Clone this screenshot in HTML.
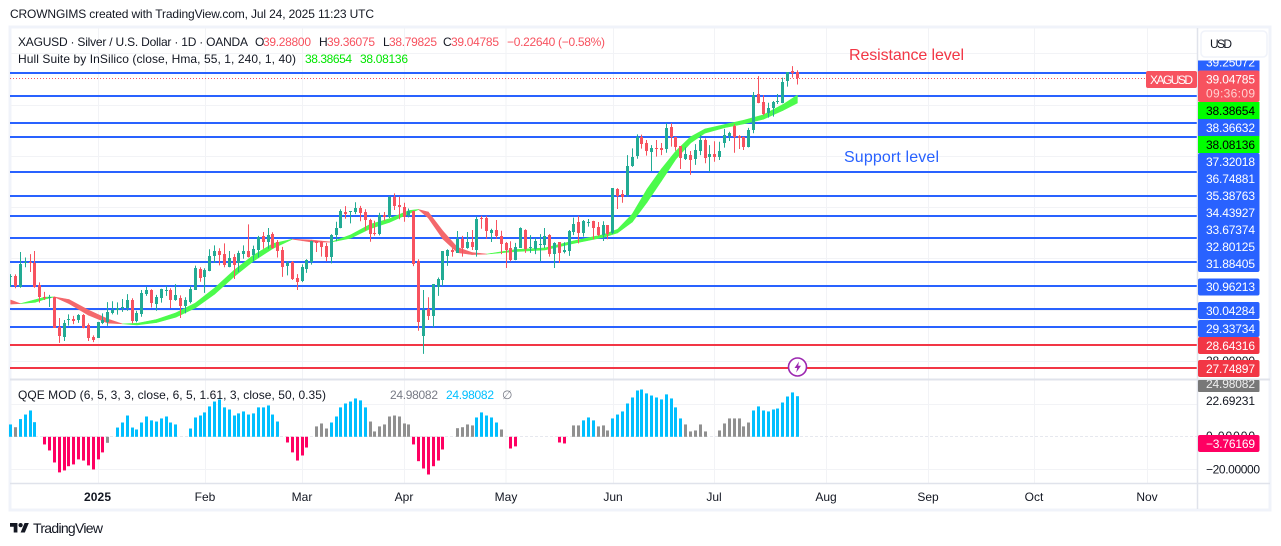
<!DOCTYPE html>
<html lang="en">
<head>
<meta charset="utf-8">
<title>XAGUSD chart</title>
<style>
html,body{margin:0;padding:0;background:#fff;width:1281px;height:546px;overflow:hidden}
svg{display:block}
text{font-family:"Liberation Sans",sans-serif;font-size:12px;fill:#131722}
.tag{fill:#fff;text-anchor:start}
</style>
</head>
<body>
<svg id="chart" xmlns="http://www.w3.org/2000/svg" width="1281" height="546" viewBox="0 0 1281 546">
<defs>
<clipPath id="paneClip"><rect x="10" y="28" width="1187.5" height="351"/></clipPath>
<clipPath id="topTagClip"><rect x="1198" y="60.5" width="62" height="10.5"/></clipPath>
<clipPath id="grayTagClip"><rect x="1198" y="380" width="62" height="12"/></clipPath>
</defs>
<rect width="1281" height="546" fill="#fff"/>
<text x="10" y="18" textLength="364" lengthAdjust="spacing">CROWNGIMS created with TradingView.com, Jul 24, 2025 11:23 UTC</text>
<rect x="10" y="27" width="1260" height="483" fill="#fff" stroke="#f0f3fa" stroke-width="3"/>

<g id="grid"></g>
<g id="levels" clip-path="url(#paneClip)"></g>
<line x1="10" x2="1146" y1="78.5" y2="78.5" stroke="#f7525f" stroke-width="1" stroke-dasharray="1 2"/>
<g id="hull" clip-path="url(#paneClip)"></g>
<g id="candles" clip-path="url(#paneClip)"></g>
<g id="qqe"></g>

<line x1="10" x2="1270" y1="379.5" y2="379.5" stroke="#e0e3eb" stroke-width="2"/>
<line x1="10" x2="1270" y1="483.5" y2="483.5" stroke="#e0e3eb" stroke-width="1.5"/>
<line x1="1197.5" x2="1197.5" y1="28" y2="509" stroke="#e0e3eb" stroke-width="1.5"/>

<text x="18" y="46" textLength="230" lengthAdjust="spacing">XAGUSD · Silver / U.S. Dollar · 1D · OANDA</text>
<g>
<text x="255" y="46">O</text><text x="263" y="46" textLength="48" style="fill:#f7525f">39.28800</text>
<text x="319" y="46">H</text><text x="327" y="46" textLength="48" style="fill:#f7525f">39.36075</text>
<text x="383" y="46">L</text><text x="389" y="46" textLength="48" style="fill:#f7525f">38.79825</text>
<text x="443" y="46">C</text><text x="451" y="46" textLength="48" style="fill:#f7525f">39.04785</text>
<text x="507" y="46" textLength="98" style="fill:#f7525f">−0.22640 (−0.58%)</text>
</g>
<text x="18" y="63" textLength="278" lengthAdjust="spacing">Hull Suite by InSilico (close, Hma, 55, 1, 240, 1, 40)</text>
<text x="305" y="63" textLength="47" style="fill:#00e600">38.38654</text>
<text x="360" y="63" textLength="48" style="fill:#00e600">38.08136</text>

<text x="849" y="60" textLength="115" style="font-size:16px;fill:#f23645">Resistance level</text>
<text x="844" y="162" textLength="95" style="font-size:16px;fill:#2962ff">Support level</text>

<g>
<circle cx="797.5" cy="367" r="9" fill="#fff" stroke="#9c27b0" stroke-width="1.6"/>
<path d="M799 361.5l-4.5 6.500h2.700l-1 4.500 4.800-6.800h-2.800z" fill="#9c27b0"/>
</g>

<text x="18" y="399" textLength="308" lengthAdjust="spacing">QQE MOD (6, 5, 3, 3, close, 6, 5, 1.61, 3, close, 50, 0.35)</text>
<text x="390" y="399" textLength="48" style="fill:#787b86">24.98082</text>
<text x="446" y="399" textLength="48" style="fill:#00bfff">24.98082</text>
<text x="502" y="399" style="fill:#787b86">∅</text>

<rect x="1146" y="71" width="51" height="17" rx="2" fill="#f7525f"/>
<text class="tag" x="1150" y="84" textLength="43">XAGUSD</text>

<g>
<rect x="1201" y="31" width="66" height="26" rx="4" fill="#fff" stroke="#f0f3fa" stroke-width="1.5"/>
<text x="1210" y="48" textLength="22">USD</text>

<rect x="1198" y="60.500" width="61.500" height="11" fill="#2962ff"/>
<text class="tag" clip-path="url(#topTagClip)" x="1206" y="66.500" textLength="49">39.25072</text>
<rect x="1198" y="119" width="61.500" height="17" fill="#2962ff"/>
<text class="tag" x="1206" y="132" textLength="49">38.36632</text>
<rect x="1198" y="153" width="61.500" height="119" rx="2" fill="#2962ff"/>
<text class="tag" x="1206" y="166" textLength="49">37.32018</text>
<text class="tag" x="1206" y="183" textLength="49">36.74881</text>
<text class="tag" x="1206" y="200" textLength="49">35.38763</text>
<text class="tag" x="1206" y="217" textLength="49">34.43927</text>
<text class="tag" x="1206" y="234" textLength="49">33.67374</text>
<text class="tag" x="1206" y="251" textLength="49">32.80125</text>
<text class="tag" x="1206" y="268" textLength="49">31.88405</text>
<rect x="1198" y="278.500" width="61.500" height="17" rx="2" fill="#2962ff"/>
<text class="tag" x="1206" y="291" textLength="49">30.96213</text>
<rect x="1198" y="302" width="61.500" height="17" rx="2" fill="#2962ff"/>
<text class="tag" x="1206" y="315" textLength="49">30.04284</text>
<rect x="1198" y="320" width="61.500" height="17" rx="2" fill="#2962ff"/>
<text class="tag" x="1206" y="333" textLength="49">29.33734</text>

<rect x="1198" y="70.500" width="61.500" height="31.500" rx="2" fill="#f7525f"/>
<text class="tag" x="1206" y="83.500" textLength="49">39.04785</text>
<text class="tag" x="1206" y="97.500" textLength="49" style="fill:#ffd0d0">09:36:09</text>
<rect x="1198" y="102" width="61.500" height="17" fill="#00ff00"/>
<text x="1206" y="115" textLength="49" style="fill:#000">38.38654</text>
<rect x="1198" y="136" width="61.500" height="17" fill="#00ff00"/>
<text x="1206" y="149" textLength="49" style="fill:#000">38.08136</text>

<rect x="1198" y="337" width="61.500" height="17" rx="2" fill="#f23645"/>
<text class="tag" x="1206" y="350" textLength="49">28.64316</text>
<text x="1206" y="365" textLength="49">28.00000</text>
<rect x="1198" y="360" width="61.500" height="17" rx="2" fill="#f23645"/>
<text class="tag" x="1206" y="373" textLength="49">27.74897</text>

<rect x="1198" y="380" width="61.500" height="12" rx="1" fill="#787878"/>
<text class="tag" clip-path="url(#grayTagClip)" x="1206" y="388" textLength="49" style="fill:#eee">24.98082</text>
<text x="1206" y="405" textLength="49">22.69231</text>
<text x="1206" y="440" textLength="49">0.00000</text>
<rect x="1198" y="435" width="61.500" height="17" rx="2" fill="#ff0062"/>
<text class="tag" x="1206" y="448" textLength="49">−3.76169</text>
<text x="1206" y="473.500" textLength="54">−20.00000</text>
</g>

<g>
<text x="84" y="501" textLength="27" style="font-weight:bold">2025</text>
<text x="205" y="501" text-anchor="middle">Feb</text>
<text x="302" y="501" text-anchor="middle">Mar</text>
<text x="404" y="501" text-anchor="middle">Apr</text>
<text x="506" y="501" text-anchor="middle">May</text>
<text x="613" y="501" text-anchor="middle">Jun</text>
<text x="714" y="501" text-anchor="middle">Jul</text>
<text x="826" y="501" text-anchor="middle">Aug</text>
<text x="928" y="501" text-anchor="middle">Sep</text>
<text x="1034" y="501" text-anchor="middle">Oct</text>
<text x="1147" y="501" text-anchor="middle">Nov</text>
</g>

<g>
<g transform="translate(10 520.900) scale(0.53)" fill="#131722">
<path d="M14 22H7V11H0V4h14v18zM28 22h-8l7.500-18h8L28 22z"/><circle cx="20" cy="8" r="4"/>
</g>
<text x="33" y="533" textLength="70" style="font-size:14px">TradingView</text>
</g>
</svg>

<script>
const opens = [
31.30,31.33,30.92,31.83,31.88,31.85,30.97,30.53,30.51,30.51,
29.35,28.96,29.62,29.65,29.62,29.81,29.42,28.95,28.92,29.49,
29.55,29.88,30.01,30.09,30.09,30.40,29.57,29.85,30.63,30.79,
30.24,30.49,30.78,30.79,30.40,30.48,30.17,30.35,30.79,31.62,
31.31,31.54,32.12,32.31,32.19,31.70,32.06,31.83,32.19,32.31,
32.14,32.35,32.90,32.66,32.96,32.66,32.35,31.72,31.89,31.26,
31.14,31.62,31.88,32.69,32.66,32.50,32.06,32.93,33.22,33.83,
33.83,33.83,33.99,33.83,33.52,33.02,32.96,33.70,33.61,34.43,
34.09,34.04,33.65,33.86,31.91,28.99,30.04,29.75,30.90,31.18,
32.12,32.35,32.24,32.79,32.43,32.66,32.35,33.61,33.61,33.02,
33.13,32.90,32.63,32.42,31.96,32.44,33.13,32.43,32.40,32.56,
32.54,32.93,32.19,32.65,32.27,32.31,33.04,33.45,33.00,33.43,
33.48,33.23,32.93,33.31,33.00,34.73,34.53,34.49,35.60,36.01,
36.77,36.52,36.17,36.33,36.33,36.29,37.13,36.74,36.40,35.89,
36.05,35.90,36.22,36.64,35.98,36.09,35.98,36.52,36.79,37.17,
36.79,36.74,36.38,37.00,38.43,38.12,37.69,37.89,38.13,38.09,
38.91,39.32,39.288];
const highs = [
31.41,31.40,32.27,32.06,32.19,32.31,31.09,30.72,30.60,30.53,
29.70,29.62,29.84,29.78,29.85,29.85,29.49,29.02,29.55,29.88,
30.32,30.35,30.31,30.44,30.63,30.47,29.98,30.79,30.92,30.82,
30.60,30.84,30.95,30.86,31.02,30.58,30.51,30.95,31.74,31.68,
31.64,32.38,32.53,32.42,32.61,32.31,32.19,32.32,32.53,33.35,
32.52,32.90,33.05,33.21,33.04,32.74,32.47,31.92,31.92,31.41,
31.79,31.99,32.71,32.71,32.70,32.63,32.97,33.45,33.94,34.06,
33.87,34.21,34.07,33.94,33.57,33.49,33.80,33.83,34.45,34.56,
34.43,34.19,33.97,33.88,31.99,30.79,30.51,31.02,31.28,32.31,
32.38,32.42,33.09,32.90,33.05,33.13,33.65,33.68,33.68,33.18,
33.52,33.10,32.66,32.69,32.63,33.23,33.16,32.93,32.82,32.97,
33.21,32.97,32.65,32.66,32.65,33.13,33.61,33.68,33.52,33.56,
33.49,33.44,33.47,33.32,34.76,34.76,34.69,36.05,36.31,36.86,
36.85,36.64,36.44,36.64,36.52,37.29,37.29,36.77,36.40,36.35,
36.21,36.48,36.83,36.70,36.44,36.59,36.57,37.07,36.96,37.25,
36.83,36.77,37.11,38.51,39.13,38.39,38.09,38.16,38.43,39.07,
39.29,39.52,39.36];
const lows = [
30.91,30.86,30.88,31.68,31.49,30.88,30.30,30.40,30.13,29.32,
28.73,28.80,29.40,29.46,29.51,29.30,28.80,28.76,28.92,29.46,
29.39,29.84,29.83,29.94,29.98,29.49,29.53,29.75,30.56,30.11,
29.98,30.30,30.56,30.09,30.37,29.70,29.88,30.27,30.79,31.11,
30.68,31.52,31.85,31.75,31.68,31.68,31.22,31.49,32.01,32.06,
31.88,32.06,32.40,32.40,32.40,32.06,31.30,31.36,31.18,30.79,
31.10,31.46,31.78,32.27,32.09,31.91,31.83,32.69,33.20,33.57,
33.39,33.75,33.47,33.10,32.67,32.91,32.92,33.49,33.60,33.91,
33.55,33.45,33.62,31.72,29.20,28.30,29.62,29.34,30.56,30.95,
31.73,32.09,32.24,32.09,32.40,32.35,32.09,33.18,32.79,32.66,
32.79,32.19,31.65,31.91,31.95,32.43,32.24,32.24,32.19,31.91,
32.43,32.09,31.65,31.85,32.22,32.12,32.93,32.61,32.87,33.26,
32.77,32.89,32.70,32.77,32.97,33.95,34.19,34.43,35.59,35.91,
36.30,36.03,35.43,35.99,36.05,36.14,36.38,36.22,35.51,35.86,
35.28,35.67,36.05,35.73,35.40,35.79,35.86,36.34,36.60,36.14,
36.29,36.25,36.35,36.90,38.07,37.60,37.51,37.55,38.04,38.07,
38.72,39.07,38.80];
const closes = [
31.33,30.95,31.80,31.88,31.84,30.92,30.51,30.51,30.53,29.32,
28.99,29.49,29.65,29.59,29.81,29.32,28.92,28.84,29.54,29.62,
29.93,30.01,30.08,30.13,30.40,29.57,29.89,30.68,30.79,30.27,
30.53,30.83,30.79,30.40,30.60,30.17,30.40,30.84,31.65,31.26,
31.57,32.12,32.31,32.14,31.75,32.04,31.75,32.22,32.31,32.09,
32.39,32.86,32.67,32.93,32.43,32.32,31.69,31.85,31.22,31.11,
31.67,31.96,32.69,32.61,32.47,32.06,32.93,33.21,33.87,33.75,
33.86,33.99,33.78,33.52,32.97,32.97,33.71,33.61,34.40,34.07,
34.03,33.65,33.86,31.80,29.55,30.01,29.78,31.01,31.21,32.30,
32.35,32.27,32.79,32.45,32.66,32.45,33.56,33.56,33.09,33.13,
32.90,32.58,32.35,31.95,32.47,33.21,32.39,32.45,32.70,32.57,
32.90,32.19,32.61,32.24,32.35,33.09,33.36,33.02,33.48,33.45,
33.22,32.92,33.31,32.96,34.76,34.45,34.40,35.62,35.96,36.74,
36.49,36.21,36.33,36.30,36.26,37.11,36.74,36.34,35.94,36.09,
35.87,36.25,36.64,35.95,36.09,35.98,36.20,36.83,36.91,36.73,
36.73,36.34,37.03,38.38,38.09,37.65,37.89,38.12,38.16,38.90,
39.28,39.25,39.05];

const hullBars = [0,2,5,7,9,12,16,20,23,26,30,34,38,42,46,50,54,58,62,66,70,74,78,82,84,86,89,92,95,98,104,110,116,122,125,128,131,134,137,140,143,147,151,155,159,162];
const hullFast = [30.24,30.26,30.41,30.51,30.52,30.26,29.81,29.50,29.47,29.49,29.64,29.90,30.28,30.87,31.56,32.15,32.60,32.77,32.66,32.66,32.94,33.35,33.57,33.89,33.93,33.60,32.78,32.25,32.17,32.19,32.37,32.43,32.71,32.95,33.16,33.75,34.71,35.51,36.21,36.76,37.07,37.24,37.41,37.62,38.02,38.38654];
const hullSlow = [30.40,30.26,30.31,30.43,30.52,30.42,30.01,29.66,29.47,29.43,29.52,29.73,30.09,30.63,31.31,31.92,32.41,32.77,32.74,32.66,32.81,33.18,33.43,33.77,33.93,33.83,33.09,32.45,32.25,32.19,32.29,32.35,32.61,32.84,33.02,33.44,34.20,35.04,35.90,36.52,36.91,37.12,37.27,37.45,37.79,38.08136];

const resistanceLevels = [39.25072,38.36632,37.32018,36.74881,35.38763,34.43927,33.67374,32.80125,31.88405,30.96213,30.04284,29.33734];
const supportLevels = [28.64316,27.74897];
const priceGridTicks = [40,38,36,34,32,30,28];
const qqeGridTicks = [20,-20];

const qqeValues = [
7.6,5.9,10.9,13.7,16.2,9.0,0,-4.7,-8.4,-15.8,
-21.9,-20.7,-18.1,-17.0,-13.9,-14.6,-17.6,-20.1,-13.9,-9.6,
-3.7,0,5.7,8.8,13.1,5.7,4.5,8.8,12.5,10.1,
9.4,11.3,12.5,8.8,7.6,0,0,5.1,11.9,13.1,
15.0,18.7,21.7,23.0,18.1,16.8,13.1,14.4,15.6,13.7,
14.4,18.1,18.1,19.3,13.7,9.4,0,-3.5,-9.6,-14.6,
-11.5,-6.6,0,6.4,8.2,5.1,8.8,12.5,18.1,20.5,
21.7,23.6,22.4,18.1,9.4,3.3,6.4,7.6,12.5,13.1,
12.5,8.2,7.6,-4.7,-15.0,-19.5,-23.2,-18.1,-14.6,-7.8,
0,0,5.3,5.9,7.6,7.0,11.9,15.0,13.1,11.9,
8.8,4.5,0,-7.2,-5.9,0,0,0,0,0,
0,0,0,-3.5,-4.1,0,7.0,7.0,10.1,11.9,
10.1,6.4,7.0,3.9,11.3,13.7,15.6,20.5,24.2,28.5,
29.1,26.7,25.4,24.2,23.0,26.1,23.6,18.1,11.3,7.6,
3.3,3.9,7.6,3.3,0,0,3.9,8.2,11.3,11.3,
11.3,6.4,8.8,16.2,18.7,16.2,15.6,16.8,17.4,21.1,
24.8,27.3,24.98];
const qqeNeutralBars = [1,20,63,64,65,74,75,76,77,78,79,80,81,82,92,93,94,95,101,116,117,121,122,123,139,140,141,142,143,146,147,148,149,150,151,152];

const monthGridDays = [0,1,2,3,4,5,6,7,8,9,10];

function xBar(i){ return 10.7 + 4.856 * i; }
function yPrice(p){ return 73 + (39.25072 - p) * 25.65; }
function yQqe(v){ return 436.8 - 1.625 * v; }
function xMonth(m){ return [98.5,205.5,302.5,404.5,506,613.5,714.5,826.5,928.5,1034.5,1147.5][m]; }
function snapLine(v){ return Math.floor(v) + 0.5; }

const NS = 'http://www.w3.org/2000/svg';
function mk(tag, attrs, parent){
  const el = document.createElementNS(NS, tag);
  for (const k in attrs) el.setAttribute(k, attrs[k]);
  parent.appendChild(el);
  return el;
}

const gridG = document.getElementById('grid');
monthGridDays.forEach(function(m){
  const x = xMonth(m);
  const v = mk('line', {x1:x, x2:x, y1:28, y2:483, stroke:'#f2f3f6', 'stroke-width':1}, gridG);
  
  
});
priceGridTicks.forEach(function(t){
  const y = snapLine(yPrice(t));
  const h = mk('line', {x1:10, x2:1197, y1:y, y2:y, stroke:'#f2f3f6', 'stroke-width':1}, gridG);
  
  
});
qqeGridTicks.forEach(function(t){
  const y = snapLine(yQqe(t));
  const h = mk('line', {x1:10, x2:1197, y1:y, y2:y, stroke:'#f2f3f6', 'stroke-width':1}, gridG);
  
  
});
const zeroY = snapLine(yQqe(0));
const zeroLine = mk('line', {x1:10, x2:1197, y1:zeroY, y2:zeroY, stroke:'#e6e8ee', 'stroke-width':1, 'stroke-dasharray':'3 2'}, gridG);



const levelsG = document.getElementById('levels');
resistanceLevels.forEach(function(p){
  const y = Math.round(yPrice(p));
  const l = mk('line', {x1:10, x2:1197, y1:y, y2:y, stroke:'#2962ff', 'stroke-width':2}, levelsG);
  
  
});
supportLevels.forEach(function(p){
  const y = Math.round(yPrice(p));
  const l = mk('line', {x1:10, x2:1197, y1:y, y2:y, stroke:'#f23645', 'stroke-width':2}, levelsG);
  
  
});

const hullG = document.getElementById('hull');
for (let s = 0; s < hullBars.length - 1; s++) {
  const x0 = xBar(hullBars[s]), x1 = xBar(hullBars[s + 1]);
  const up = (hullFast[s] + hullFast[s + 1]) >= (hullSlow[s] + hullSlow[s + 1]);
  const col = up ? '#4cfb4c' : '#f4686c';
  const pts = [
    [x0, yPrice(hullFast[s])], [x1, yPrice(hullFast[s + 1])],
    [x1, yPrice(hullSlow[s + 1])], [x0, yPrice(hullSlow[s])]
  ].map(function(p){ return p[0].toFixed(2) + ',' + p[1].toFixed(2); }).join(' ');
  const seg = mk('polygon', {points:pts, fill:col, stroke:col, 'stroke-width':0.6, 'stroke-linejoin':'round'}, hullG);
  
  
}

const candlesG = document.getElementById('candles');
closes.forEach(function(c, i){
  const o = opens[i];
  const col = c >= o ? '#22ab94' : '#f7525f';
  const x = snapLine(xBar(i));
  const wick = mk('line', {x1:x, x2:x, y1:yPrice(highs[i]), y2:yPrice(lows[i]), stroke:col, 'stroke-width':1}, candlesG);
  
  
  const top = Math.round(Math.min(yPrice(o), yPrice(c)));
  const h = Math.max(1, Math.round(Math.abs(yPrice(o) - yPrice(c))));
  const body = mk('rect', {x:x - 1.5, y:top, width:3, height:h, fill:col}, candlesG);
  
  
});

const qqeG = document.getElementById('qqe');
qqeValues.forEach(function(v, i){
  if (v === 0) return;
  let col = v < 0 ? '#ff0062' : '#00bfff';
  if (qqeNeutralBars.indexOf(i) >= 0) col = '#909090';
  const y0 = yQqe(0), y1 = yQqe(v);
  const bar = mk('rect', {x:snapLine(xBar(i)) - 1.5, y:Math.min(y0, y1), width:3, height:Math.abs(y1 - y0), fill:col}, qqeG);
  
  
});
</script>
</body>
</html>
